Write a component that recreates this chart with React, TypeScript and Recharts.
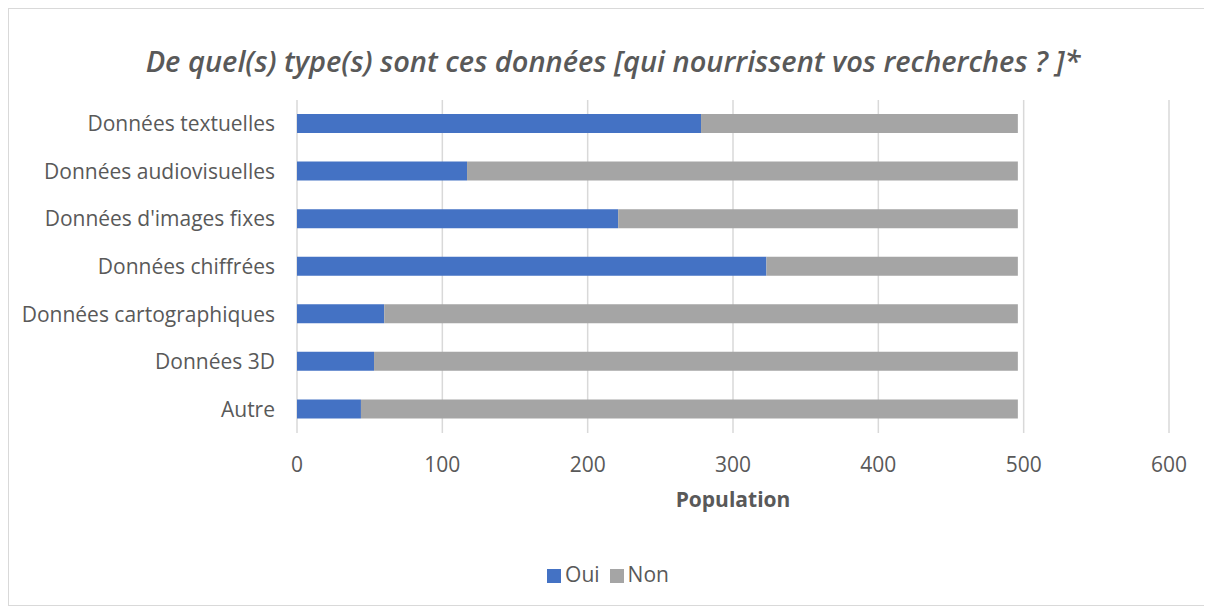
import { BarChart, Bar, XAxis, YAxis, CartesianGrid, Legend } from 'recharts'

const CATEGORIES = [
  'Données textuelles',
  'Données audiovisuelles',
  "Données d'images fixes",
  'Données chiffrées',
  'Données cartographiques',
  'Données 3D',
  'Autre',
]
const OUI = [278, 117, 221, 323, 60, 53, 44]
const NON = [218, 379, 275, 173, 436, 443, 452]
const X_TICKS = [0, 100, 200, 300, 400, 500, 600]

const FONT = '"Open Sans", "DejaVu Sans", sans-serif'
const TEXT = '#595959'

const data = CATEGORIES.map((name, i) => ({ name, Oui: OUI[i], Non: NON[i] }))

export default function App() {
  return (
    <div
      style={{
        position: 'relative',
        width: 1210,
        height: 598,
        border: '1px solid #d9d9d9',
        background: '#fff',
        fontFamily: FONT,
        boxSizing: 'border-box',
      }}
    >
      <div
        style={{
          position: 'absolute',
          top: 34,
          left: 0,
          width: 1208,
          textAlign: 'center',
          fontSize: 29,
          fontWeight: 600,
          fontStyle: 'italic',
          color: TEXT,
          lineHeight: '36px',
        }}
      >
        De quel(s) type(s) sont ces données [qui nourrissent vos recherches ? ]*
      </div>
      <BarChart
        width={1208}
        height={596}
        data={data}
        layout="vertical"
        barSize={19}
        margin={{ top: 91, right: 48, left: 0, bottom: 92 }}
      >
        <CartesianGrid horizontal={false} stroke="#d9d9d9" strokeWidth={1.5} />
        <XAxis
          type="number"
          domain={[0, 600]}
          ticks={X_TICKS}
          axisLine={false}
          tickLine={false}
          tickSize={0}
          tickMargin={24}
          height={80}
          tick={{ fill: TEXT, fontSize: 21, fontFamily: FONT }}
          label={{
            value: 'Population',
            position: 'insideBottom',
            offset: 6,
            fill: TEXT,
            fontSize: 21,
            fontWeight: 700,
            fontFamily: FONT,
          }}
        />
        <YAxis
          type="category"
          dataKey="name"
          width={288}
          axisLine={false}
          tickLine={false}
          tickSize={0}
          tickMargin={22}
          interval={0}
          tick={{ fill: TEXT, fontSize: 21, fontFamily: FONT }}
        />
        <Legend
          verticalAlign="middle"
          iconType="square"
          iconSize={14}
          itemSorter={(item: any) => (item.value === 'Oui' ? 0 : 1)}
          wrapperStyle={{ top: 551, left: 0, width: 1208, fontSize: 21, fontFamily: FONT }}
          formatter={(v: string) => <span style={{ color: TEXT }}>{v}</span>}
        />
        <Bar dataKey="Oui" stackId="a" fill="#4472c4" isAnimationActive={false} />
        <Bar dataKey="Non" stackId="a" fill="#a5a5a5" isAnimationActive={false} />
      </BarChart>
    </div>
  )
}
